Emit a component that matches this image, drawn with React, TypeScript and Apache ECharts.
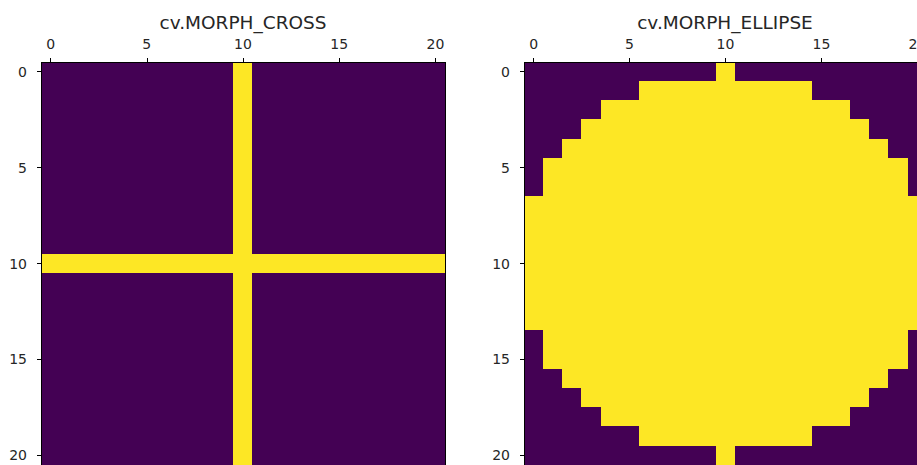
import React, { useEffect, useRef } from "react";
import * as echarts from "echarts";

// 21x21 structuring elements ("1" = yellow cell)
const crossRows: string[] = [
  "000000000010000000000",
  "000000000010000000000",
  "000000000010000000000",
  "000000000010000000000",
  "000000000010000000000",
  "000000000010000000000",
  "000000000010000000000",
  "000000000010000000000",
  "000000000010000000000",
  "000000000010000000000",
  "111111111111111111111",
  "000000000010000000000",
  "000000000010000000000",
  "000000000010000000000",
  "000000000010000000000",
  "000000000010000000000",
  "000000000010000000000",
  "000000000010000000000",
  "000000000010000000000",
  "000000000010000000000",
  "000000000010000000000",
];

const ellipseRows: string[] = [
  "000000000010000000000",
  "000000111111111000000",
  "000011111111111110000",
  "000111111111111111000",
  "001111111111111111100",
  "011111111111111111110",
  "011111111111111111110",
  "111111111111111111111",
  "111111111111111111111",
  "111111111111111111111",
  "111111111111111111111",
  "111111111111111111111",
  "111111111111111111111",
  "111111111111111111111",
  "011111111111111111110",
  "011111111111111111110",
  "001111111111111111100",
  "000111111111111111000",
  "000011111111111110000",
  "000000111111111000000",
  "000000000010000000000",
];

const indexLabels: string[] = [
  "0", "1", "2", "3", "4", "5", "6", "7", "8", "9", "10",
  "11", "12", "13", "14", "15", "16", "17", "18", "19", "20",
];
const titles: string[] = ["cv.MORPH_CROSS", "cv.MORPH_ELLIPSE"];

const FONT = "DejaVu Sans";
const TXT = "#262626";

function toCells(rows: string[]): number[][] {
  const out: number[][] = [];
  rows.forEach((row, r) => {
    row.split("").forEach((ch, c) => out.push([c, r, Number(ch)]));
  });
  return out;
}

export default function App() {
  const ref = useRef<HTMLDivElement>(null);
  useEffect(() => {
    if (!ref.current) return;
    const chart = echarts.init(ref.current, undefined, { renderer: "svg" });
    const grids = [
      { left: 41, top: 62, width: 404, height: 403, outerBoundsMode: "none", containLabel: false },
      { left: 524, top: 62, width: 403, height: 403, outerBoundsMode: "none", containLabel: false },
    ];
    const titleX = [243, 725];
    const every5 = (i: number) => i % 5 === 0;
    const xAxes: any[] = [];
    const yAxes: any[] = [];
    grids.forEach((_, gi) => {
      xAxes.push({
        type: "category",
        gridIndex: gi,
        data: indexLabels,
        position: "top",
        z: 5,
        axisLine: { show: true, lineStyle: { color: "#000", width: 1 } },
        axisTick: { show: true, alignWithLabel: true, interval: every5, length: 4.5, lineStyle: { color: "#000" } },
        axisLabel: { interval: every5, margin: 11, fontFamily: FONT, fontSize: 14, color: TXT },
        splitLine: { show: false },
      });
      xAxes.push({
        type: "category",
        gridIndex: gi,
        data: indexLabels,
        position: "bottom",
        z: 5,
        axisLine: { show: true, lineStyle: { color: "#000", width: 1 } },
        axisTick: { show: true, alignWithLabel: true, interval: every5, length: 4.5, lineStyle: { color: "#000" } },
        axisLabel: { show: false },
        splitLine: { show: false },
      });
      yAxes.push({
        type: "category",
        gridIndex: gi,
        data: indexLabels,
        inverse: true,
        position: "left",
        z: 5,
        axisLine: { show: true, lineStyle: { color: "#000", width: 1 } },
        axisTick: { show: true, alignWithLabel: true, interval: every5, length: 4.5, lineStyle: { color: "#000" } },
        axisLabel: { interval: every5, margin: 14, fontFamily: FONT, fontSize: 14, color: TXT },
        splitLine: { show: false },
      });
      yAxes.push({
        type: "category",
        gridIndex: gi,
        data: indexLabels,
        inverse: true,
        position: "right",
        z: 5,
        axisLine: { show: true, lineStyle: { color: "#000", width: 1 } },
        axisTick: { show: false },
        axisLabel: { show: false },
        splitLine: { show: false },
      });
    });
    const datasets = [crossRows, ellipseRows];
    chart.setOption({
      animation: false,
      backgroundColor: "#ffffff",
      grid: grids,
      xAxis: xAxes,
      yAxis: yAxes,
      visualMap: {
        show: false,
        min: 0,
        max: 1,
        seriesIndex: [0, 1],
        inRange: { color: ["#440154", "#fde725"] },
      },
      series: datasets.map((rows, i) => ({
        type: "heatmap",
        xAxisIndex: i * 2,
        yAxisIndex: i * 2,
        data: toCells(rows),
        itemStyle: { borderWidth: 0 },
        emphasis: { disabled: true },
        z: 1,
      })),
      graphic: titles.map((t, i) => ({
        type: "text",
        x: titleX[i],
        y: 22,
        style: {
          text: t,
          fontFamily: FONT,
          fontSize: 18.5,
          fill: TXT,
          textAlign: "center",
          textVerticalAlign: "middle",
        },
      })),
    });
    return () => chart.dispose();
  }, []);
  return (
    <>
      <style>{`.hm-chart svg path { shape-rendering: crispEdges; }`}</style>
      <div
        ref={ref}
        className="hm-chart"
        style={{ position: "fixed", left: 0, top: 0, width: 917, height: 465 }}
      />
    </>
  );
}
